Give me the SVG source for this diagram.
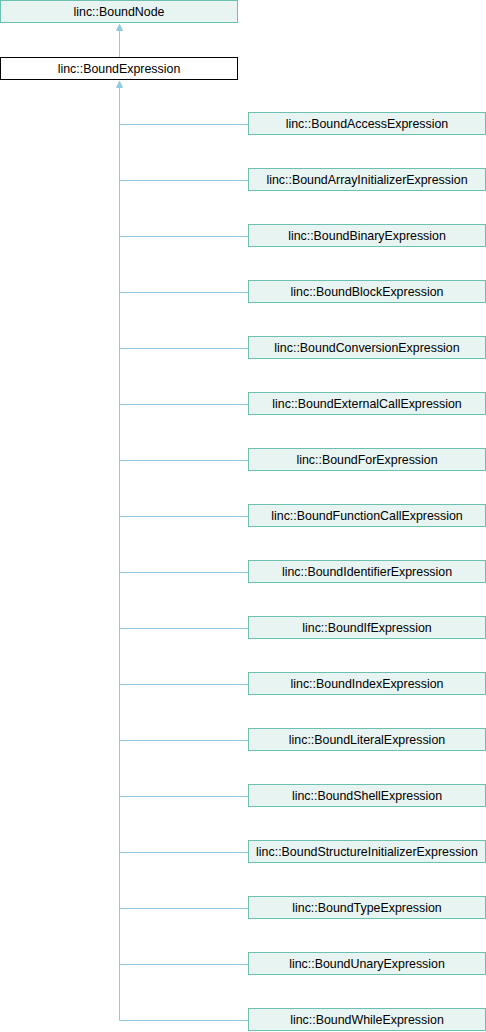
<svg xmlns="http://www.w3.org/2000/svg" width="486" height="1032" viewBox="0 0 486 1032">
<defs>
<style>
.n rect{fill:#e8f4f2;stroke:#6cc0b0;stroke-width:1}
.m rect{fill:#ffffff;stroke:#000000;stroke-width:1}
text{font-family:"Liberation Sans",Arial,sans-serif;font-size:12.4px;fill:#000;text-anchor:middle}
.e{stroke:#8fcbe4;stroke-width:1;fill:none}
</style>
<marker id="a" markerWidth="6" markerHeight="6" refX="3" refY="0" orient="0" markerUnits="userSpaceOnUse" viewBox="0 0 6 6" overflow="visible">
<path d="M0,6 L3,0 L6,6 Z" fill="#8fcbe4" stroke="#8fcbe4" stroke-width="1"/>
</marker>
</defs>
<g id="connectors">
<path class="e" d="M119.5,57 V24.5" marker-end="url(#a)"/>
<path class="e" d="M119.5,1020.5 V81.5" marker-end="url(#a)"/>
<path class="e" d="M119.5,124.5 H248"/>
<path class="e" d="M119.5,180.5 H248"/>
<path class="e" d="M119.5,236.5 H248"/>
<path class="e" d="M119.5,292.5 H248"/>
<path class="e" d="M119.5,348.5 H248"/>
<path class="e" d="M119.5,404.5 H248"/>
<path class="e" d="M119.5,460.5 H248"/>
<path class="e" d="M119.5,516.5 H248"/>
<path class="e" d="M119.5,572.5 H248"/>
<path class="e" d="M119.5,628.5 H248"/>
<path class="e" d="M119.5,684.5 H248"/>
<path class="e" d="M119.5,740.5 H248"/>
<path class="e" d="M119.5,796.5 H248"/>
<path class="e" d="M119.5,852.5 H248"/>
<path class="e" d="M119.5,908.5 H248"/>
<path class="e" d="M119.5,964.5 H248"/>
<path class="e" d="M119.5,1020.5 H248"/>
</g>
<g id="BoundNode" class="n"><rect x="0.5" y="0.5" width="237" height="22"/><text x="119" y="16">linc::BoundNode</text></g>
<g id="BoundExpression" class="m"><rect x="0.5" y="57.5" width="237" height="22"/><text x="119" y="73">linc::BoundExpression</text></g>
<g id="BoundAccessExpression" class="n"><rect x="248.5" y="112.5" width="237" height="22"/><text x="367" y="128">linc::BoundAccessExpression</text></g>
<g id="BoundArrayInitializerExpression" class="n"><rect x="248.5" y="168.5" width="237" height="22"/><text x="367" y="184">linc::BoundArrayInitializerExpression</text></g>
<g id="BoundBinaryExpression" class="n"><rect x="248.5" y="224.5" width="237" height="22"/><text x="367" y="240">linc::BoundBinaryExpression</text></g>
<g id="BoundBlockExpression" class="n"><rect x="248.5" y="280.5" width="237" height="22"/><text x="367" y="296">linc::BoundBlockExpression</text></g>
<g id="BoundConversionExpression" class="n"><rect x="248.5" y="336.5" width="237" height="22"/><text x="367" y="352">linc::BoundConversionExpression</text></g>
<g id="BoundExternalCallExpression" class="n"><rect x="248.5" y="392.5" width="237" height="22"/><text x="367" y="408">linc::BoundExternalCallExpression</text></g>
<g id="BoundForExpression" class="n"><rect x="248.5" y="448.5" width="237" height="22"/><text x="367" y="464">linc::BoundForExpression</text></g>
<g id="BoundFunctionCallExpression" class="n"><rect x="248.5" y="504.5" width="237" height="22"/><text x="367" y="520">linc::BoundFunctionCallExpression</text></g>
<g id="BoundIdentifierExpression" class="n"><rect x="248.5" y="560.5" width="237" height="22"/><text x="367" y="576">linc::BoundIdentifierExpression</text></g>
<g id="BoundIfExpression" class="n"><rect x="248.5" y="616.5" width="237" height="22"/><text x="367" y="632">linc::BoundIfExpression</text></g>
<g id="BoundIndexExpression" class="n"><rect x="248.5" y="672.5" width="237" height="22"/><text x="367" y="688">linc::BoundIndexExpression</text></g>
<g id="BoundLiteralExpression" class="n"><rect x="248.5" y="728.5" width="237" height="22"/><text x="367" y="744">linc::BoundLiteralExpression</text></g>
<g id="BoundShellExpression" class="n"><rect x="248.5" y="784.5" width="237" height="22"/><text x="367" y="800">linc::BoundShellExpression</text></g>
<g id="BoundStructureInitializerExpression" class="n"><rect x="248.5" y="840.5" width="237" height="22"/><text x="367" y="856">linc::BoundStructureInitializerExpression</text></g>
<g id="BoundTypeExpression" class="n"><rect x="248.5" y="896.5" width="237" height="22"/><text x="367" y="912">linc::BoundTypeExpression</text></g>
<g id="BoundUnaryExpression" class="n"><rect x="248.5" y="952.5" width="237" height="22"/><text x="367" y="968">linc::BoundUnaryExpression</text></g>
<g id="BoundWhileExpression" class="n"><rect x="248.5" y="1008.5" width="237" height="22"/><text x="367" y="1024">linc::BoundWhileExpression</text></g>
</svg>
